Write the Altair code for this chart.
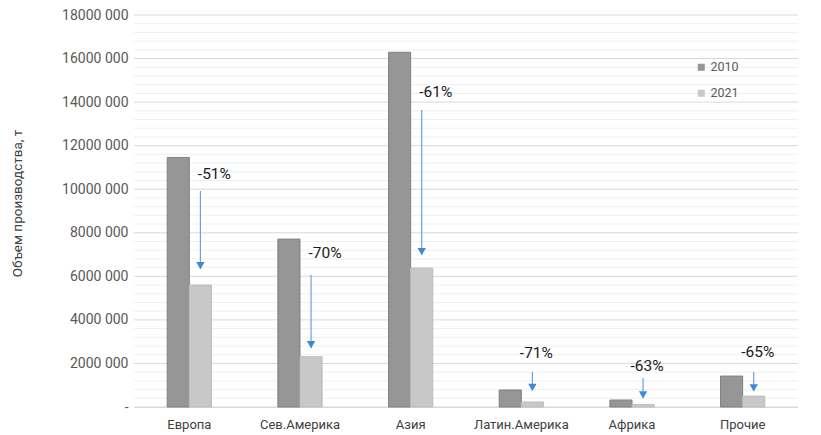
import altair as alt
import pandas as pd

regions = ["Европа", "Сев.Америка", "Азия", "Латин.Америка", "Африка", "Прочие"]
series = ["2010", "2021"]
v2010 = [11460000, 7710000, 16290000, 780000, 320000, 1420000]
v2021 = [5600000, 2310000, 6380000, 230000, 120000, 500000]
pct = ["-51%", "-70%", "-61%", "-71%", "-63%", "-65%"]
label_y = [10700000, 7070000, 14460000, 2490000, 1900000, 2540000]
arrow_top = [9920000, 6060000, 13640000, 1620000, 1330000, 1610000]
arrow_tip = [6340000, 2710000, 6980000, 750000, 410000, 730000]

major_ticks = list(range(0, 18000001, 2000000))
minor_ticks = [v for v in range(0, 18000001, 400000) if v % 2000000 != 0]

bars_df = pd.DataFrame(
    [{"region": r, "series": "2010", "value": v} for r, v in zip(regions, v2010)]
    + [{"region": r, "series": "2021", "value": v} for r, v in zip(regions, v2021)]
)
ann_df = pd.DataFrame({
    "region": regions,
    "series": ["2021"] * len(regions),
    "pct": pct,
    "label_y": label_y,
    "top": arrow_top,
    "tip": arrow_tip,
    "idx": list(range(len(regions))),
})

FONT = "Roboto"
GRAY = "#595959"

x_enc = alt.X(
    "region:N", sort=regions, title=None,
    scale=alt.Scale(paddingInner=0.6, paddingOuter=0.3),
    axis=alt.Axis(labelAngle=0, labelFontSize=13, labelColor="#404040", labelFont=FONT,
                  labelPadding=11, ticks=False, domainColor="#d9d9d9", grid=False),
)
xoff = alt.XOffset("series:N", sort=series, scale=alt.Scale(domain=series))
y_scale = alt.Scale(domain=[0, 18000000], nice=False)

minor_grid = alt.Chart(pd.DataFrame({"v": minor_ticks})).mark_rule(
    color="#efefef", strokeWidth=1
).encode(y=alt.Y("v:Q", scale=y_scale))

major_grid = alt.Chart(pd.DataFrame({"v": major_ticks})).mark_rule(
    color="#d9d9d9", strokeWidth=1
).encode(y=alt.Y("v:Q", scale=y_scale))

bars = alt.Chart(bars_df).mark_bar(strokeWidth=1).encode(
    x=x_enc,
    xOffset=xoff,
    y=alt.Y(
        "value:Q", scale=y_scale, title="Объем производства, т",
        axis=alt.Axis(
            values=major_ticks, ticks=False, domain=False, grid=False, labelOverlap=False,
            labelExpr="datum.value == 0 ? '-\u00a0\u00a0\u00a0\u00a0\u00a0' : format(datum.value / 1000, 'd') + ' 000'",
            labelFontSize=14, labelColor=GRAY, labelFont=FONT, labelPadding=6,
            titleFontSize=13.5, titleFont=FONT, titleColor="#404040", titleFontWeight="normal",
            titleX=-110, titleY=188,
        ),
    ),
    color=alt.Color(
        "series:N", sort=series,
        scale=alt.Scale(domain=series, range=["#969696", "#c8c8c8"]),
        legend=alt.Legend(
            title=None, orient="none", legendX=561, legendY=46,
            symbolType="square", symbolSize=50, symbolStrokeWidth=0,
            labelFontSize=12.5, labelColor=GRAY, labelFont=FONT, labelOffset=3, rowPadding=13,
        ),
    ),
    stroke=alt.Stroke("series:N", sort=series,
                      scale=alt.Scale(domain=series, range=["#808080", "#bdbdbd"]), legend=None),
)

ann = alt.Chart(ann_df)

labels_a = ann.transform_filter("datum.idx < 3").mark_text(
    fontSize=15.5, font=FONT, color="#1a1a1a", baseline="middle", dx=14
).encode(x=alt.X("region:N", sort=regions), xOffset=xoff, y=alt.Y("label_y:Q", scale=y_scale), text="pct:N")

labels_b = ann.transform_filter("datum.idx >= 3").mark_text(
    fontSize=15.5, font=FONT, color="#1a1a1a", baseline="middle", dx=4
).encode(x=alt.X("region:N", sort=regions), xOffset=xoff, y=alt.Y("label_y:Q", scale=y_scale), text="pct:N")

arrow_line = ann.mark_rule(color="#6aa2dc", strokeWidth=1.2).encode(
    x=alt.X("region:N", sort=regions), xOffset=xoff,
    y=alt.Y("top:Q", scale=y_scale), y2="tip:Q",
)

arrow_head = ann.transform_calculate(head="datum.tip + 150000").mark_point(
    shape="triangle-down", filled=True, size=70, color="#3f88d6", opacity=1
).encode(
    x=alt.X("region:N", sort=regions), xOffset=xoff,
    y=alt.Y("head:Q", scale=y_scale),
)

chart = alt.layer(minor_grid, major_grid, bars, arrow_line, arrow_head, labels_a, labels_b).properties(
    width=664, height=392,
    autosize=alt.AutoSizeParams(type="none"),
    padding={"left": 126, "top": 7, "right": 0, "bottom": 26},
).configure_view(stroke=None)

chart.save("out.html", embed_options={"renderer": "svg", "actions": False})
